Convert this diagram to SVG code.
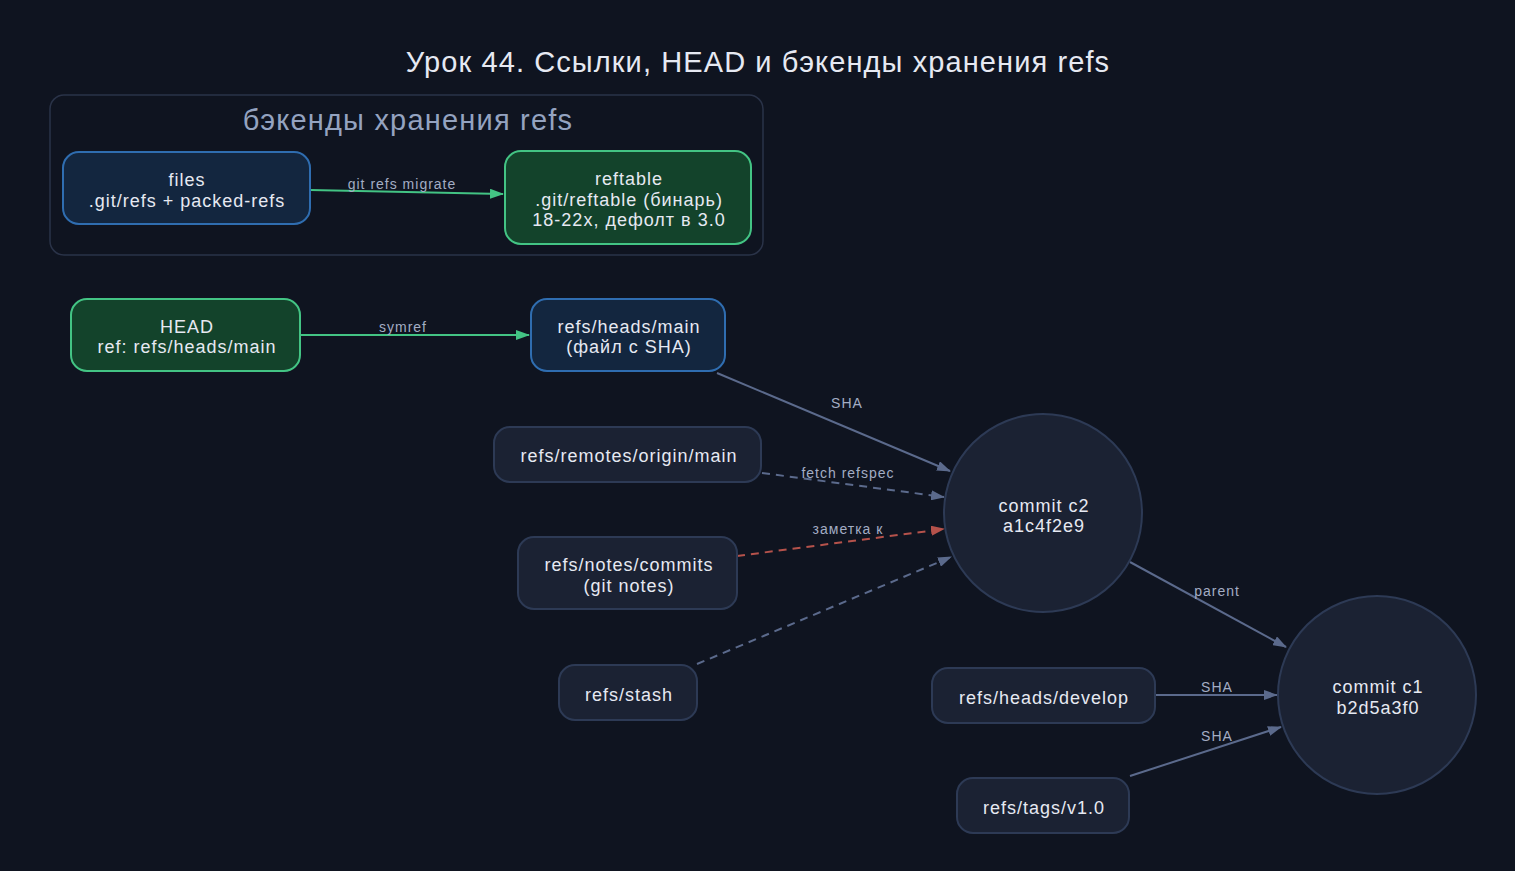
<svg xmlns="http://www.w3.org/2000/svg" width="1515" height="871" viewBox="0 0 1515 871">
<defs>
<style>
text{font-family:"Liberation Sans",Arial,sans-serif;text-anchor:middle}
.t{fill:#e6e9f2;font-size:18px;letter-spacing:1px}
.lbl{fill:#a3adc4;font-size:14px;letter-spacing:1px}
.blue{fill:#13263f;stroke:#2f6db0;stroke-width:2}
.green{fill:#13432b;stroke:#43c484;stroke-width:2}
.gray{fill:#1b2233;stroke:#2d3a55;stroke-width:2}
.e{fill:none;stroke:#5b6a8c;stroke-width:2}
.eg{fill:none;stroke:#43c484;stroke-width:2}
.er{fill:none;stroke:#b5524b;stroke-width:2}
.d{stroke-dasharray:8,6}
</style>
<marker id="ag" markerWidth="14" markerHeight="10" refX="13" refY="5" orient="auto" markerUnits="userSpaceOnUse"><path d="M0,0 L14,5 L0,10 z" fill="#43c484"/></marker>
<marker id="ab" markerWidth="14" markerHeight="10" refX="13" refY="5" orient="auto" markerUnits="userSpaceOnUse"><path d="M0,0 L14,5 L0,10 z" fill="#5b6a8c"/></marker>
<marker id="ar" markerWidth="14" markerHeight="10" refX="13" refY="5" orient="auto" markerUnits="userSpaceOnUse"><path d="M0,0 L14,5 L0,10 z" fill="#b5524b"/></marker>
</defs>
<rect width="1515" height="871" fill="#0f1420"/>
<text x="758" y="72" style="fill:#e6e9f2;font-size:29px;letter-spacing:1.1px">Урок 44. Ссылки, HEAD и бэкенды хранения refs</text>

<g id="cluster_backends">
<rect x="50" y="95" width="713" height="160" rx="14" fill="#0f1420" stroke="#2a3348" stroke-width="1.5"/>
<text x="408" y="130" style="fill:#94a3c0;font-size:29px;letter-spacing:1.2px">бэкенды хранения refs</text>
</g>

<g id="connectors">
<line class="eg" x1="310" y1="190" x2="503" y2="194" marker-end="url(#ag)"/>
<text class="lbl" x="402" y="189">git refs migrate</text>
<line class="eg" x1="300" y1="335" x2="529" y2="335" marker-end="url(#ag)"/>
<text class="lbl" x="403" y="332">symref</text>
<line class="e" x1="717" y1="373" x2="950" y2="471" marker-end="url(#ab)"/>
<text class="lbl" x="847" y="408">SHA</text>
<line class="e d" x1="762" y1="473" x2="944" y2="497" marker-end="url(#ab)"/>
<text class="lbl" x="848" y="478">fetch refspec</text>
<line class="er d" x1="737" y1="556" x2="944" y2="529" marker-end="url(#ar)"/>
<text class="lbl" x="848" y="534">заметка к</text>
<line class="e d" x1="697" y1="664" x2="951" y2="557" marker-end="url(#ab)"/>
<line class="e" x1="1130" y1="562" x2="1286" y2="647" marker-end="url(#ab)"/>
<text class="lbl" x="1217" y="596">parent</text>
<line class="e" x1="1155" y1="695" x2="1277" y2="695" marker-end="url(#ab)"/>
<text class="lbl" x="1217" y="692">SHA</text>
<line class="e" x1="1130" y1="776" x2="1281" y2="727" marker-end="url(#ab)"/>
<text class="lbl" x="1217" y="741">SHA</text>
</g>

<g id="files">
<rect class="blue" x="63" y="152" width="247" height="72" rx="16"/>
<text class="t" x="187" y="186">files</text>
<text class="t" x="187" y="207">.git/refs + packed-refs</text>
</g>
<g id="reftable">
<rect class="green" x="505" y="151" width="246" height="93" rx="16"/>
<text class="t" x="629" y="185">reftable</text>
<text class="t" x="629" y="206">.git/reftable (бинарь)</text>
<text class="t" x="629" y="226">18-22x, дефолт в 3.0</text>
</g>
<g id="head">
<rect class="green" x="71" y="299" width="229" height="72" rx="16"/>
<text class="t" x="187" y="333">HEAD</text>
<text class="t" x="187" y="353">ref: refs/heads/main</text>
</g>
<g id="heads_main">
<rect class="blue" x="531" y="299" width="194" height="72" rx="16"/>
<text class="t" x="629" y="333">refs/heads/main</text>
<text class="t" x="629" y="353">(файл с SHA)</text>
</g>
<g id="remotes_origin_main">
<rect class="gray" x="494" y="427" width="267" height="55" rx="16"/>
<text class="t" x="629" y="462">refs/remotes/origin/main</text>
</g>
<g id="notes_commits">
<rect class="gray" x="518" y="537" width="219" height="72" rx="16"/>
<text class="t" x="629" y="571">refs/notes/commits</text>
<text class="t" x="629" y="592">(git notes)</text>
</g>
<g id="stash">
<rect class="gray" x="559" y="665" width="138" height="55" rx="16"/>
<text class="t" x="629" y="701">refs/stash</text>
</g>
<g id="commit_c2">
<circle class="gray" cx="1043" cy="513" r="99"/>
<text class="t" x="1044" y="512">commit c2</text>
<text class="t" x="1044" y="532">a1c4f2e9</text>
</g>
<g id="commit_c1">
<circle class="gray" cx="1377" cy="695" r="99"/>
<text class="t" x="1378" y="693">commit c1</text>
<text class="t" x="1378" y="714">b2d5a3f0</text>
</g>
<g id="heads_develop">
<rect class="gray" x="932" y="668" width="223" height="55" rx="16"/>
<text class="t" x="1044" y="704">refs/heads/develop</text>
</g>
<g id="tags_v1">
<rect class="gray" x="957" y="778" width="172" height="55" rx="16"/>
<text class="t" x="1044" y="814">refs/tags/v1.0</text>
</g>
</svg>
